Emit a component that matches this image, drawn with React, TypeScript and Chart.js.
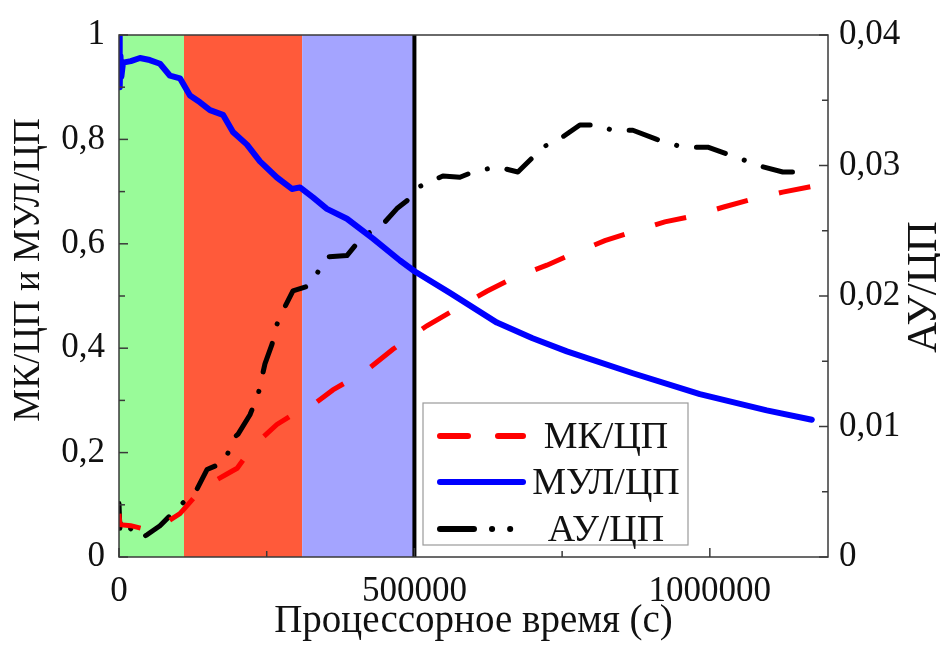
import { useEffect, useRef } from 'react';
import { Chart, registerables } from 'chart.js';

Chart.register(...registerables);

const SERIF = '"Liberation Serif", "Times New Roman", serif';

// Processor time (s) and the ratios read against it
const tMK = [0, 1500, 20000, 45000, 66000, 85000, 103200, 142100, 182700, 200000, 226700, 267300, 290000, 319800, 362100, 419600, 463600, 521100, 565100, 622600, 666700, 724200, 768200, 822300, 869700, 923800, 971200, 1022000, 1072700, 1123400, 1172600];
const vMK = [0.083, 0.062, 0.06, 0.053, 0.055, 0.07, 0.083, 0.133, 0.159, 0.17, 0.212, 0.254, 0.27, 0.284, 0.32, 0.358, 0.398, 0.443, 0.472, 0.509, 0.534, 0.559, 0.581, 0.606, 0.623, 0.642, 0.653, 0.67, 0.686, 0.699, 0.71];

const tMUL = [0, 1200, 2500, 4000, 6800, 20000, 35500, 52000, 69400, 86300, 103200, 120100, 137100, 154000, 176000, 192900, 216600, 238600, 267300, 292700, 306300, 328300, 351900, 385800, 430000, 475500, 500800, 560100, 639600, 700000, 758000, 869700, 983100, 1096400, 1172600];
const vMUL = [1.0, 0.9, 0.96, 0.92, 0.947, 0.95, 0.956, 0.952, 0.945, 0.922, 0.917, 0.884, 0.871, 0.856, 0.847, 0.814, 0.79, 0.758, 0.727, 0.705, 0.708, 0.689, 0.667, 0.648, 0.61, 0.568, 0.547, 0.506, 0.449, 0.419, 0.394, 0.352, 0.312, 0.281, 0.263];

const tAU = [0, 1500, 3000, 10000, 23700, 35500, 47400, 69400, 98100, 132000, 148900, 179400, 192900, 201300, 221700, 235200, 247000, 258900, 269000, 294400, 323200, 345200, 351900, 385800, 411200, 446700, 470400, 487300, 509300, 548200, 577000, 598900, 639600, 675100, 717400, 751200, 780000, 813800, 834100, 869700, 910300, 954300, 996600, 1033800, 1089600, 1123400, 1169200];
const vAU = [0.0041, 0.0022, 0.003, 0.0026, 0.002, 0.0014, 0.0017, 0.0024, 0.0037, 0.0052, 0.0067, 0.0073, 0.0091, 0.0094, 0.0109, 0.0124, 0.0148, 0.0163, 0.0181, 0.0204, 0.0208, 0.0225, 0.023, 0.0231, 0.0245, 0.0255, 0.0267, 0.0273, 0.0284, 0.0292, 0.0291, 0.0295, 0.0299, 0.0295, 0.0314, 0.0322, 0.0331, 0.0331, 0.0327, 0.0327, 0.032, 0.0314, 0.0314, 0.0308, 0.0299, 0.0295, 0.0295];

// Shaded stages and the marker at the end of the last one
const stageBounds = [0, 110000, 310000, 500000];
const stageColors = ['#99fb99', '#ff5a3a', '#a4a4ff'];
const markerTime = 500000;

// Axis ticks
const xTicks = [0, 500000, 1000000];
const xMinorTicks = [250000, 750000];
const yMinorTicks = [0.1, 0.3, 0.5, 0.7, 0.9];
const y1MinorTicks = [0.005, 0.015, 0.025, 0.035];

const xTitle = 'Процессорное время (с)';
const yTitle = 'МК/ЦП и МУЛ/ЦП';
const y1Title = 'АУ/ЦП';

const MK_DASH = [32, 32];
const AU_DASH = [30, 20, 0.1, 20];

const toPoints = (t: number[], v: number[]) => t.map((x, i) => ({ x, y: v[i] }));
const commaNum = (v: number) => (v === 0 ? '0' : String(Number(v.toFixed(3))).replace('.', ','));

const stagesPlugin = {
  id: 'stages',
  beforeDatasetsDraw(chart: any) {
    const { ctx, chartArea: a, scales } = chart;
    const x = scales.x;
    ctx.save();
    for (let i = 0; i < stageColors.length; i++) {
      const x0 = x.getPixelForValue(stageBounds[i]);
      const x1 = x.getPixelForValue(stageBounds[i + 1]);
      ctx.fillStyle = stageColors[i];
      ctx.fillRect(x0, a.top, x1 - x0, a.bottom - a.top);
    }
    const xm = x.getPixelForValue(markerTime);
    ctx.strokeStyle = '#000';
    ctx.lineWidth = 4;
    ctx.beginPath();
    ctx.moveTo(xm, a.top);
    ctx.lineTo(xm, a.bottom);
    ctx.stroke();
    ctx.restore();
  },
};

const framePlugin = {
  id: 'frame',
  afterDatasetsDraw(chart: any) {
    const { ctx, chartArea: a, scales } = chart;
    ctx.save();
    ctx.strokeStyle = '#3a3a3a';
    ctx.lineWidth = 1.5;
    ctx.strokeRect(a.left, a.top, a.right - a.left, a.bottom - a.top);
    const seg = (x1: number, y1: number, x2: number, y2: number) => {
      ctx.beginPath();
      ctx.moveTo(x1, y1);
      ctx.lineTo(x2, y2);
      ctx.stroke();
    };
    const major = 9;
    const minor = 6;
    xTicks.forEach((v) => {
      const p = scales.x.getPixelForValue(v);
      seg(p, a.bottom, p, a.bottom - major);
    });
    xMinorTicks.forEach((v) => {
      const p = scales.x.getPixelForValue(v);
      seg(p, a.bottom, p, a.bottom - minor);
    });
    scales.y.ticks.forEach((t: any) => {
      const p = scales.y.getPixelForValue(t.value);
      seg(a.left, p, a.left + major, p);
    });
    yMinorTicks.forEach((v) => {
      const p = scales.y.getPixelForValue(v);
      seg(a.left, p, a.left + minor, p);
    });
    scales.y1.ticks.forEach((t: any) => {
      const p = scales.y1.getPixelForValue(t.value);
      seg(a.right, p, a.right - major, p);
    });
    y1MinorTicks.forEach((v) => {
      const p = scales.y1.getPixelForValue(v);
      seg(a.right, p, a.right - minor, p);
    });
    ctx.restore();
  },
};

const annotationPlugin = {
  id: 'titlesAndLegend',
  afterDraw(chart: any) {
    const { ctx, chartArea: a } = chart;
    ctx.save();
    ctx.fillStyle = '#111';

    // axis titles
    ctx.font = `39px ${SERIF}`;
    ctx.textAlign = 'center';
    ctx.textBaseline = 'alphabetic';
    ctx.fillText(xTitle, (a.left + a.right) / 2, 632);

    ctx.font = `37px ${SERIF}`;
    ctx.textBaseline = 'middle';
    ctx.save();
    ctx.translate(29, 270);
    ctx.rotate(-Math.PI / 2);
    ctx.fillText(yTitle, 0, 0);
    ctx.restore();

    ctx.font = `43px ${SERIF}`;
    ctx.save();
    ctx.translate(925, 287);
    ctx.rotate(-Math.PI / 2);
    ctx.fillText(y1Title, 0, 0);
    ctx.restore();

    // legend box
    const bx = a.left + 304;
    const by = a.bottom - 154;
    const bw = 265;
    const bh = 142;
    ctx.fillStyle = '#fff';
    ctx.fillRect(bx, by, bw, bh);
    ctx.strokeStyle = '#9a9a9a';
    ctx.lineWidth = 1.2;
    ctx.strokeRect(bx, by, bw, bh);

    ctx.font = `38px ${SERIF}`;
    const rows = [33, 79, 126];
    chart.data.datasets.forEach((ds: any, i: number) => {
      const y = by + rows[i];
      ctx.save();
      ctx.strokeStyle = ds.borderColor;
      ctx.lineWidth = 6;
      ctx.lineCap = 'round';
      ctx.setLineDash(ds.legendDash || []);
      ctx.beginPath();
      ctx.moveTo(bx + 17, y);
      ctx.lineTo(bx + 100, y);
      ctx.stroke();
      ctx.restore();
      ctx.fillStyle = '#111';
      ctx.textAlign = 'center';
      ctx.textBaseline = 'middle';
      ctx.fillText(ds.label, bx + 183, y + 2);
    });
    ctx.restore();
  },
};

export default function App() {
  const canvasRef = useRef<HTMLCanvasElement | null>(null);

  useEffect(() => {
    if (!canvasRef.current) return;
    const tickFont = { family: SERIF, size: 35 };
    const chart = new Chart(canvasRef.current, {
      type: 'line',
      data: {
        datasets: [
          {
            label: 'МК/ЦП',
            data: toPoints(tMK, vMK),
            yAxisID: 'y',
            borderColor: '#ff0000',
            borderWidth: 5,
            borderDash: MK_DASH,
            borderCapStyle: 'butt',
            legendDash: [28, 30],
          } as any,
          {
            label: 'МУЛ/ЦП',
            data: toPoints(tMUL, vMUL),
            yAxisID: 'y',
            borderColor: '#0000ff',
            borderWidth: 6,
            borderCapStyle: 'round',
            borderJoinStyle: 'round',
            legendDash: [],
          } as any,
          {
            label: 'АУ/ЦП',
            data: toPoints(tAU, vAU),
            yAxisID: 'y1',
            borderColor: '#000000',
            borderWidth: 5,
            borderDash: AU_DASH,
            borderCapStyle: 'round',
            borderJoinStyle: 'round',
            legendDash: [34, 18, 0.1, 18, 0.1, 60],
          } as any,
        ],
      },
      options: {
        animation: false,
        responsive: true,
        maintainAspectRatio: false,
        layout: { padding: { top: 29, left: 0, right: 0, bottom: 0 } },
        elements: { point: { radius: 0 }, line: { tension: 0 } },
        plugins: { legend: { display: false }, tooltip: { enabled: false } },
        events: [],
        scales: {
          x: {
            type: 'linear',
            min: 0,
            max: 1200000,
            grid: { display: false, drawTicks: false },
            border: { display: false },
            afterBuildTicks: (s: any) => {
              s.ticks = xTicks.map((value) => ({ value }));
            },
            afterFit: (s: any) => {
              s.height = 93;
            },
            ticks: {
              font: tickFont,
              color: '#111',
              padding: 14,
              maxRotation: 0,
              autoSkip: false,
              callback: (v: any) => String(v),
            },
          },
          y: {
            type: 'linear',
            position: 'left',
            min: 0,
            max: 1,
            grid: { display: false, drawTicks: false },
            border: { display: false },
            afterFit: (s: any) => {
              s.width = 119;
            },
            ticks: {
              stepSize: 0.2,
              font: tickFont,
              color: '#111',
              padding: 14,
              callback: (v: any) => commaNum(Number(v)),
            },
          },
          y1: {
            type: 'linear',
            position: 'right',
            min: 0,
            max: 0.04,
            grid: { display: false, drawTicks: false },
            border: { display: false },
            afterFit: (s: any) => {
              s.width = 112;
            },
            ticks: {
              stepSize: 0.01,
              font: tickFont,
              color: '#111',
              padding: 11,
              callback: (v: any) => commaNum(Number(v)),
            },
          },
        },
      } as any,
      plugins: [stagesPlugin, framePlugin, annotationPlugin],
    });
    return () => chart.destroy();
  }, []);

  return (
    <div style={{ position: 'fixed', left: 0, top: 0, width: 940, height: 650, background: '#fff' }}>
      <canvas ref={canvasRef} />
    </div>
  );
}
